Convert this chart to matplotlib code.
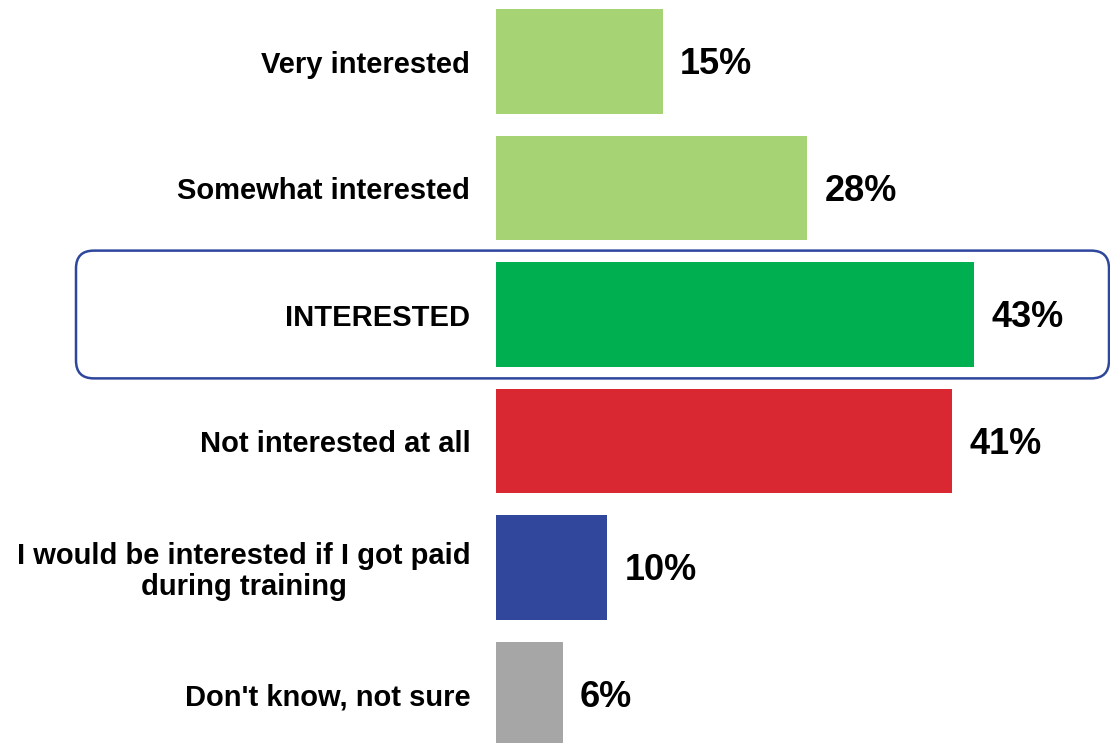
import matplotlib
matplotlib.use("Agg")
import matplotlib.pyplot as plt
from matplotlib.patches import FancyBboxPatch

categories = [
    "Very interested",
    "Somewhat interested",
    "INTERESTED",
    "Not interested at all",
    "I would be interested if I got paid\nduring training",
    "Don't know, not sure",
]
values = [15, 28, 43, 41, 10, 6]
colors = ["#A6D373", "#A6D373", "#00B050", "#DA2832", "#31479B", "#A6A6A6"]
highlight = "INTERESTED"

plt.rcParams["font.family"] = ["Liberation Sans", "DejaVu Sans"]

W, H, DPI = 1110, 743, 100
fig = plt.figure(figsize=(W / DPI, H / DPI), dpi=DPI)
ax = fig.add_axes([496 / W, 0, (W - 496) / W, 1])

y = list(range(len(categories)))
ax.barh(y, values, height=0.83, color=colors)

px_per_unit_x = 11.12
ax.set_xlim(0, (W - 496) / px_per_unit_x)
pitch = 126.5
ax.set_ylim((H - 61.5) / pitch, -61.5 / pitch)

for yi, v in zip(y, values):
    ax.annotate(f"{v}%", (v, yi), xytext=(12.5, -2.3), textcoords="offset points",
                ha="left", va="center", fontsize=26, fontweight="bold")

ax.set_yticks(y)
ax.set_yticklabels(categories, fontsize=21, fontweight="bold", linespacing=1.12)
for lab in ax.get_yticklabels():
    lab.set_multialignment("center")
ax.tick_params(axis="y", length=0, pad=18.5)
ax.set_xticks([])
for s in ax.spines.values():
    s.set_visible(False)

# rounded frame around the highlighted row
hi = categories.index(highlight)
x0 = -(496 - 76) / px_per_unit_x
x1 = (1109 - 496) / px_per_unit_x
y0 = hi - 0.505
y1 = hi + 0.505
aspect = px_per_unit_x / pitch
box = FancyBboxPatch((x0, y0), x1 - x0, y1 - y0,
                     boxstyle="round,pad=0,rounding_size=1.6",
                     mutation_aspect=aspect, fill=False,
                     edgecolor="#2E479C", linewidth=1.8, clip_on=False, zorder=3)
ax.add_patch(box)

fig.savefig("out.png", dpi=DPI)
